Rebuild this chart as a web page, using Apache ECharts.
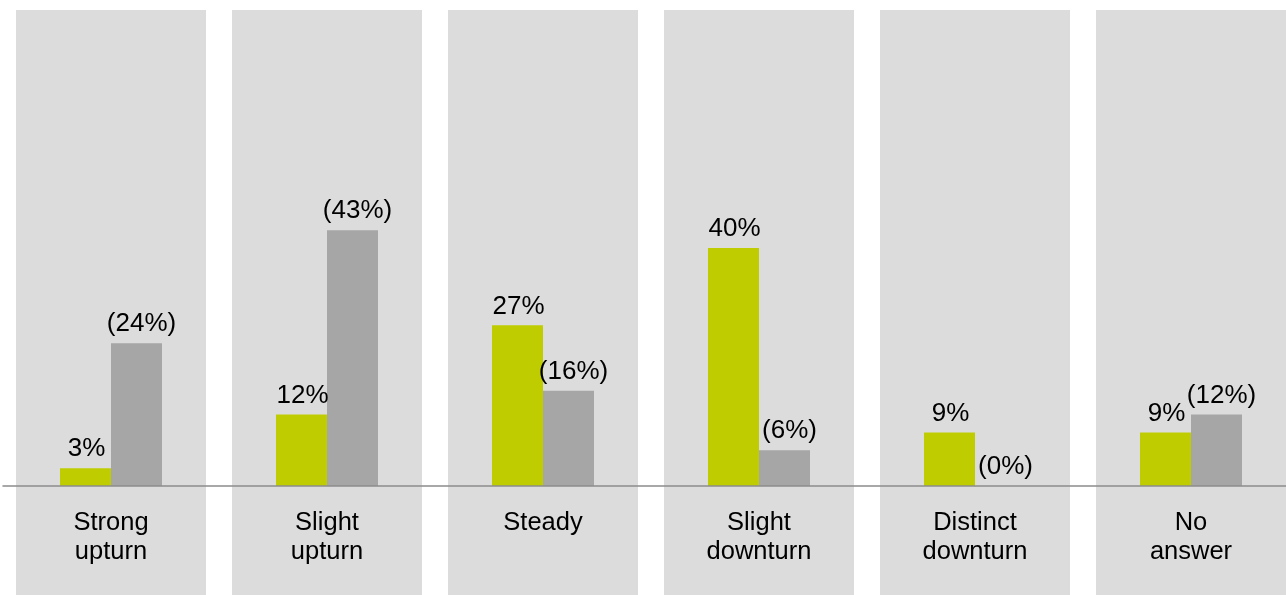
<!DOCTYPE html>
<html>
<head>
<meta charset="utf-8">
<script src="https://cdn.jsdelivr.net/npm/echarts@6/dist/echarts.min.js"></script>
<style>
html, body { margin: 0; padding: 0; background: #fff; }
#chart { width: 1286px; height: 595px; }
</style>
</head>
<body>
<div id="chart"></div>
<script>
var categories = ['Strong\nupturn', 'Slight\nupturn', 'Steady', 'Slight\ndownturn', 'Distinct\ndownturn', 'No\nanswer'];
var currentValues = [3, 12, 27, 40, 9, 9];
var previousValues = [24, 43, 16, 6, 0, 12];
var bandValues = [1, 1, 1, 1, 1, 1];

var chart = echarts.init(document.getElementById('chart'));
var font = '"Liberation Sans", Arial, Helvetica, sans-serif';

chart.setOption({
  animation: false,
  textStyle: { fontFamily: font },
  grid: [
    // data grid: bottom edge is the baseline
    { left: 3, top: 10, width: 1296, bottom: 109, outerBoundsMode: 'none' },
    // grey category bands, full height
    { left: 3, top: 10, width: 1296, bottom: 0, outerBoundsMode: 'none' }
  ],
  xAxis: [{
    type: 'category',
    gridIndex: 0,
    data: categories,
    z: 5,
    axisLine: { lineStyle: { color: '#8c8c8c', width: 1.5 } },
    axisTick: { show: false },
    axisLabel: {
      color: '#000',
      fontSize: 25.5,
      lineHeight: 29,
      margin: 22,
      fontFamily: font
    }
  }, {
    type: 'category',
    gridIndex: 1,
    data: categories,
    show: false
  }],
  yAxis: [{
    type: 'value',
    gridIndex: 0,
    min: 0,
    max: 80,
    show: false
  }, {
    type: 'value',
    gridIndex: 1,
    min: 0,
    max: 1,
    show: false
  }],
  series: [{
    name: 'band',
    type: 'bar',
    xAxisIndex: 1,
    yAxisIndex: 1,
    data: bandValues,
    barWidth: 190,
    silent: true,
    z: 0,
    itemStyle: { color: '#dcdcdc' }
  }, {
    name: 'current',
    type: 'bar',
    data: currentValues,
    barWidth: 51,
    barGap: '0%',
    z: 2,
    itemStyle: { color: '#bfcd00' },
    label: {
      show: true,
      position: 'top',
      distance: 6,
      offset: [1, 0],
      formatter: '{c}%',
      color: '#000',
      fontSize: 26,
      fontFamily: font
    }
  }, {
    name: 'previous',
    type: 'bar',
    data: previousValues,
    barWidth: 51,
    barGap: '0%',
    z: 2,
    itemStyle: { color: '#a6a6a6' },
    label: {
      show: true,
      position: 'top',
      distance: 6,
      offset: [5, 0],
      formatter: '({c}%)',
      color: '#000',
      fontSize: 26,
      fontFamily: font
    }
  }]
});
</script>
</body>
</html>
